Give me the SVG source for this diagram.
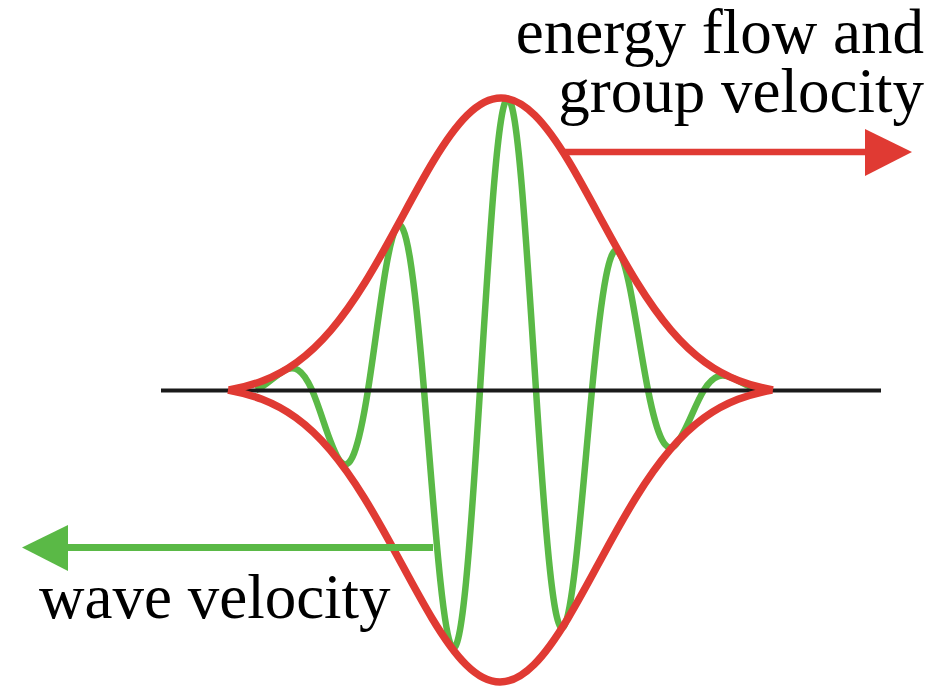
<svg xmlns="http://www.w3.org/2000/svg" xmlns:xlink="http://www.w3.org/1999/xlink" width="947" height="689" viewBox="0 0 947 689">
<style>
.lbl{font-family:"Liberation Serif","Times New Roman",serif;font-size:63px;fill:#000}
.env{fill:none;stroke:#e03a33;stroke-width:7.5;stroke-linecap:butt}
.wave{fill:none;stroke:#5ab946;stroke-width:6.5}
.axis{stroke:#1a1a1a;stroke-width:4}
</style>
<defs>
<path id="envTop" d="M229,390 C240.33,387.96 251.67,385.09 263,380.7 C274.33,376.31 285.67,370.43 297,362.2 C308.33,353.97 319.67,343.39 331,330.1 C342.33,316.81 353.67,300.78 365,282.5 C376.33,264.22 387.67,243.7 399,222.8 C410.33,201.9 421.67,180.62 433,161.8 C444.33,142.98 455.67,126.68 467,115.4 C478.33,104.12 489.67,98 501,98 C512.33,98 523.67,104.12 535,115.4 C546.33,126.68 557.67,142.98 569,161.8 C580.33,180.62 591.67,201.9 603,222.8 C614.33,243.7 625.67,264.22 637,282.5 C648.33,300.78 659.67,316.81 671,330.1 C682.33,343.39 693.67,353.97 705,362.2 C716.33,370.43 727.67,376.31 739,380.7 C750.33,385.09 761.67,387.96 773,390"/>
</defs>
<g id="wave">
<path class="wave" d="M256,390 C265.8,386.29 274.2,376.34 284,370.65 C293.8,364.96 302.2,367.95 312,390 C321.8,412.05 330.2,448.32 340,461.03 C349.8,473.74 358.2,451.82 368,390 C377.8,328.18 386.2,246.29 396,228.29 C405.8,210.29 414.2,273.03 424,390 C433.8,506.97 442.2,633.78 452,646.94 C461.8,660.1 470.2,546.81 480,390 C489.8,233.19 498.2,96.63 508,98.76 C517.8,100.89 526.2,239.6 536,390 C545.8,540.4 554.2,641.9 564,626.3 C573.8,610.7 582.2,493.09 592,390 C601.8,286.91 610.2,236.28 620,253.62 C629.8,270.96 638.2,340.24 648,390 C657.8,439.76 666.2,455.03 676,444.21 C685.8,433.39 694.2,405.7 704,390 C713.8,374.3 722.2,373.43 732,377.8 C741.8,382.17 750.2,388.5 760,390"/>
</g>
<g id="axis">
<line class="axis" x1="161" y1="390.5" x2="881" y2="390.5"/>
</g>
<g id="envelope">
<use xlink:href="#envTop" href="#envTop" class="env"/>
<use xlink:href="#envTop" href="#envTop" class="env" transform="matrix(1,0,0,-1,-1,780)"/>
</g>
<g id="connectors">
<line x1="565" y1="152" x2="868" y2="152" stroke="#e03a33" stroke-width="6.5"/>
<polygon points="865,129 912,152 865,176" fill="#e03a33"/>
<line x1="433" y1="547.5" x2="66" y2="547.5" stroke="#5ab946" stroke-width="7"/>
<polygon points="68,525 22,547.5 68,571" fill="#5ab946"/>
</g>
<g id="label-group">
<text class="lbl" x="924" y="53" text-anchor="end">energy flow and</text>
<text class="lbl" x="924" y="112" text-anchor="end">group velocity</text>
</g>
<g id="label-wave">
<text class="lbl" x="39" y="618">wave velocity</text>
</g>
</svg>
